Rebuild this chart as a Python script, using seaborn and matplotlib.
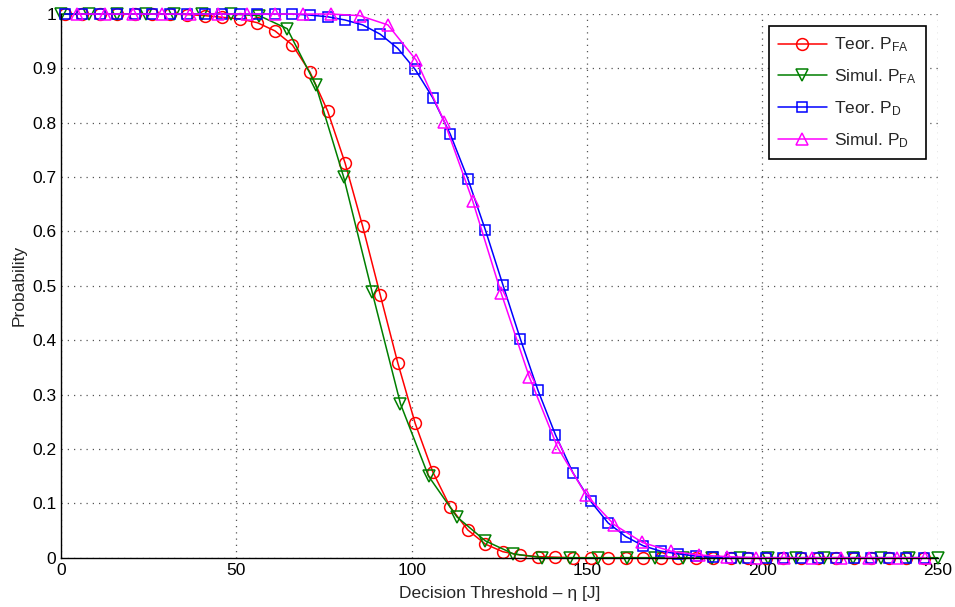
import numpy as np
import matplotlib
matplotlib.use("Agg")
import matplotlib.pyplot as plt
from matplotlib.ticker import MultipleLocator, FuncFormatter
import seaborn as sns

# theoretical curves: markers every 5 J starting at 1
x_teor = list(range(1, 250, 5))
pfa_teor = [1.0, 1.0, 1.0, 1.0, 1.0, 1.0, 1.0, 0.999, 0.997, 0.994, 0.991, 0.984,
            0.969, 0.943, 0.893, 0.822, 0.726, 0.610, 0.484, 0.359, 0.247, 0.158,
            0.093, 0.051, 0.025, 0.011, 0.005, 0.002, 0.001,
            0, 0, 0, 0, 0, 0, 0, 0, 0, 0, 0, 0, 0, 0, 0, 0, 0, 0, 0, 0, 0]
pd_teor = [1.0, 1.0, 1.0, 1.0, 1.0, 1.0, 1.0, 1.0, 1.0, 1.0, 1.0, 1.0, 1.0, 1.0,
           0.998, 0.995, 0.989, 0.980, 0.963, 0.937, 0.898, 0.846, 0.779, 0.697,
           0.603, 0.502, 0.402, 0.308, 0.226, 0.156, 0.104, 0.064, 0.039, 0.022,
           0.012, 0.007, 0.003, 0.001,
           0, 0, 0, 0, 0, 0, 0, 0, 0, 0, 0, 0]

# simulated curves
x_sim_pfa = [0, 8.1, 16.1, 24.2, 32.3, 40.3, 48.4, 56.5, 64.5, 72.6, 80.6, 88.7,
             96.8, 104.8, 112.9, 121.0, 129.0, 137.1, 145.2, 153.2, 161.3, 169.4,
             177.4, 185.5, 193.5, 201.6, 209.7, 217.7, 225.8, 233.9, 241.9, 250.0]
pfa_sim = [1.0, 1.0, 1.0, 1.0, 1.0, 1.0, 1.0,
           0.997, 0.973, 0.870, 0.700, 0.489, 0.283, 0.150, 0.075, 0.031, 0.007,
           0, 0, 0, 0, 0, 0, 0, 0, 0, 0, 0, 0, 0, 0, 0]
x_sim_pd = [4.5, 12.6, 20.6, 28.7, 36.8, 44.8, 52.9, 61.0, 69.0, 77.1, 85.2, 93.2,
            101.3, 109.3, 117.4, 125.5, 133.5, 141.6, 149.7, 157.7, 165.8, 173.9,
            181.9, 190.0, 198.1, 206.1, 214.2, 222.3, 230.3, 238.4, 246.5]
pd_sim = [1.0, 1.0, 1.0, 1.0, 1.0, 1.0, 1.0, 1.0, 1.0, 1.0,
          0.997, 0.980, 0.915, 0.802, 0.656, 0.487, 0.333, 0.203, 0.116, 0.061,
          0.028, 0.012, 0.005, 0.002,
          0, 0, 0, 0, 0, 0, 0]

sns.set_style("white")
plt.rcParams["font.family"] = ["Liberation Sans", "DejaVu Sans"]
plt.rcParams["mathtext.fontset"] = "custom"
plt.rcParams["mathtext.rm"] = "Liberation Sans"
plt.rcParams["mathtext.it"] = "Liberation Sans:italic"
plt.rcParams["xtick.direction"] = "in"
plt.rcParams["ytick.direction"] = "in"

fig = plt.figure(figsize=(9.55, 6.07), dpi=100)
ax = fig.add_axes([0.0639, 0.0812, 0.918, 0.8957])

series = [
    (x_teor, pfa_teor, "#ff0000", "o", 8.5, r"Teor. P$_{\mathrm{FA}}$"),
    (x_sim_pfa, pfa_sim, "#007f00", "v", 8.5, r"Simul. P$_{\mathrm{FA}}$"),
    (x_teor, pd_teor, "#0000ff", "s", 7.5, r"Teor. P$_{\mathrm{D}}$"),
    (x_sim_pd, pd_sim, "#ff00ff", "^", 8.5, r"Simul. P$_{\mathrm{D}}$"),
]
for xs, ys, col, mk, ms, lab in series:
    sns.lineplot(x=xs, y=ys, ax=ax, color=col, marker=mk, markersize=ms,
                 markerfacecolor="none", markeredgecolor=col, markeredgewidth=1.1,
                 linewidth=1.1, label=lab, clip_on=False, sort=False)

ax.set_xlim(0, 250)
ax.set_ylim(0, 1)
ax.xaxis.set_major_locator(MultipleLocator(50))
ax.yaxis.set_major_locator(MultipleLocator(0.1))
ax.xaxis.set_minor_locator(MultipleLocator(2.5))
ax.yaxis.set_minor_locator(MultipleLocator(0.01))
ax.yaxis.set_major_formatter(FuncFormatter(lambda v, p: f"{v:g}"))
ax.tick_params(which="major", length=5, width=0.8, labelsize=12.5, colors="black")
ax.tick_params(which="minor", length=2.5, width=0.6, colors="#444444")

ax.grid(True, which="major", linestyle=(0, (1, 4)), color="#555555", linewidth=0.9)
for s in ["top", "right"]:
    ax.spines[s].set_visible(False)
for s in ["left", "bottom"]:
    ax.spines[s].set_color("black")
    ax.spines[s].set_linewidth(1.0)

ax.set_xlabel("Decision Threshold \u2013 \u03b7 [J]", fontsize=12.5, labelpad=6)
ax.set_ylabel("Probability", fontsize=12.5, labelpad=4)

leg = ax.legend(loc="upper right", fontsize=12.5, frameon=True, fancybox=False,
                framealpha=1, edgecolor="black", handlelength=2.8,
                handletextpad=0.4, labelspacing=0.75, borderpad=0.55,
                borderaxespad=0.7)
leg.get_frame().set_linewidth(1.2)

fig.savefig("out.png", dpi=100)
